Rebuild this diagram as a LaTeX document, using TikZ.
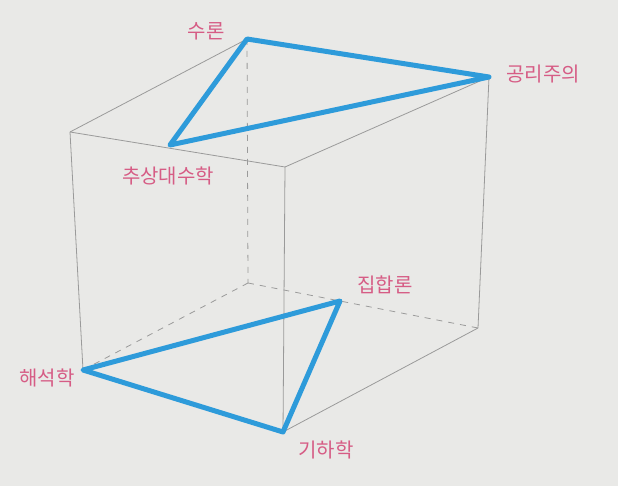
\documentclass[tikz,border=0pt]{standalone}
\usepackage{fontspec}
\newfontfamily\kr{Noto Sans CJK KR}
\definecolor{bgc}{HTML}{E9E9E7}
\definecolor{edgec}{HTML}{9A9A9A}
\definecolor{tric}{HTML}{2E9BDA}
\definecolor{labc}{HTML}{D65C85}
\tikzset{
  edge/.style={draw=edgec, line width=0.8pt},
  hidden/.style={draw=edgec, line width=0.8pt, dash pattern=on 6pt off 6pt},
  tri/.style={draw=tric, line width=5pt, line join=round, line cap=round},
  lab/.style={text=labc, font=\kr\fontsize{20}{23}\selectfont, inner sep=0pt}
}
\begin{document}
\begin{tikzpicture}[x=1pt,y=-1pt]
\fill[bgc] (0,0) rectangle (618,486);
\useasboundingbox (0,0) rectangle (618,486);
% cube corners
\coordinate (TBL) at (247,39);
\coordinate (TBR) at (489,77);
\coordinate (TFL) at (70,132);
\coordinate (TFR) at (285,167);
\coordinate (BBL) at (248,283);
\coordinate (BBR) at (478,328);
\coordinate (BFL) at (83,370);
\coordinate (BFR) at (283,432);
% points on edges
\coordinate (ABS) at (170,145);
\coordinate (SET) at (340,301);
% hidden edges
\draw[hidden] (TBL) -- (BBL);
\draw[hidden] (BBL) -- (BFL);
\draw[hidden] (BBL) -- (BBR);
% visible edges
\draw[edge] (TBL) -- (TBR);
\draw[edge] (TBL) -- (TFL);
\draw[edge] (TFL) -- (TFR);
\draw[edge] (TFR) -- (TBR);
\draw[edge] (TFL) -- (BFL);
\draw[edge] (TFR) -- (BFR);
\draw[edge] (TBR) -- (BBR);
\draw[edge] (BFL) -- (BFR);
\draw[edge] (BFR) -- (BBR);
% triangles
\draw[tri] (TBL) -- (TBR) -- (ABS) -- cycle;
\draw[tri] (BFL) -- (SET) -- (BFR) -- cycle;
% labels
\node[lab] (l1) at (206,31) {수론};
\node[lab] (l2) at (543,74) {공리주의};
\node[lab] (l3) at (168,176) {추상대수학};
\node[lab] (l4) at (385,285) {집합론};
\node[lab] (l5) at (47,378) {해석학};
\node[lab] (l6) at (326,450) {기하학};
\end{tikzpicture}
\end{document}
